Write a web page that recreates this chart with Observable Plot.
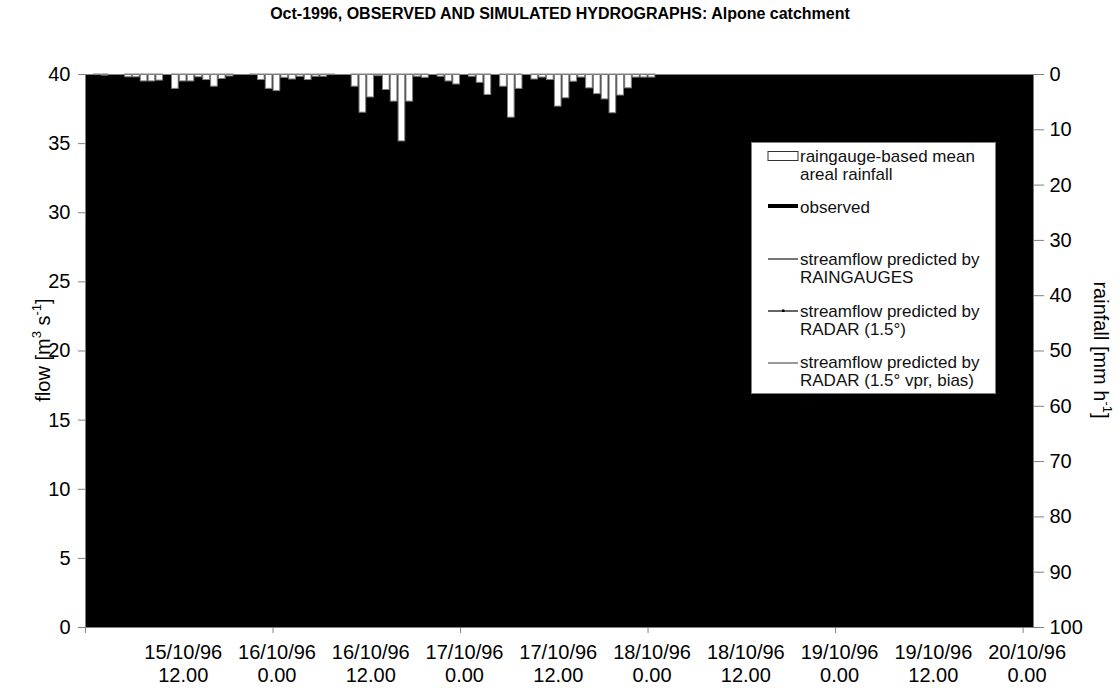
<!DOCTYPE html>
<html><head><meta charset="utf-8">
<script src="https://cdn.jsdelivr.net/npm/d3@7"></script>
<script src="https://cdn.jsdelivr.net/npm/@observablehq/plot@0.6"></script>
<style>
body{margin:0;background:#fff;font-family:"Liberation Sans",Arial,sans-serif;}
#wrap{position:relative;width:1120px;height:688px;overflow:hidden;}
#title{height:28px;line-height:28px;text-align:center;font-weight:bold;font-size:16px;color:#000;}
#chart svg{display:block;}
#legend{position:absolute;left:751px;top:142px;width:243px;height:250px;border:1px solid #808080;background:#fff;}
#legend svg{position:absolute;left:0;top:0;}
.li{position:absolute;left:48px;font-size:17px;line-height:17.7px;color:#111;white-space:nowrap;}
</style></head><body>
<div id="wrap">
<div id="title">Oct-1996, OBSERVED AND SIMULATED HYDROGRAPHS: Alpone catchment</div>
<div id="chart"></div>
<div id="legend"></div>
</div>
<script>
// hourly raingauge-based mean areal rainfall [mm/h], starting 15/10/96 0.00
const rainStart = Date.UTC(1996, 9, 15, 0);
const rain = [
  0, 0.1, 0.2, 0, 0, 0.5, 0.5, 1.25, 1.25, 1.1, 0, 2.6, 1.25, 1.25, 0.5, 1.0, 2.2, 0.8,
  0.35, 0, 0, 0.1, 1.0, 2.6, 3.0, 0.6, 0.9, 0.4, 1.0, 0.4, 0.4, 0.1, 0, 0, 2.2, 6.9,
  4.15, 0.3, 2.8, 4.9, 12.1, 4.9, 0.4, 0.6, 0, 0.4, 1.25, 1.8, 0, 0.4, 1.5, 3.7, 0, 2.2,
  7.8, 2.6, 0, 0.9, 0.55, 1.0, 5.8, 4.3, 1.3, 0.55, 2.5, 3.55, 4.5, 7.0, 3.8, 2.5, 0.55, 0.55, 0.55
];
const flowTicks = [0, 5, 10, 15, 20, 25, 30, 35, 40];
const rainTicks = [0, 10, 20, 30, 40, 50, 60, 70, 80, 90, 100];
const xMajorTicks = ["1996-10-15T00:00Z","1996-10-16T00:00Z","1996-10-17T00:00Z","1996-10-18T00:00Z","1996-10-19T00:00Z","1996-10-20T00:00Z"];
const xLabelTimes = ["1996-10-15T12:00Z","1996-10-16T00:00Z","1996-10-16T12:00Z","1996-10-17T00:00Z","1996-10-17T12:00Z","1996-10-18T00:00Z","1996-10-18T12:00Z","1996-10-19T00:00Z","1996-10-19T12:00Z","1996-10-20T00:00Z"];
const xLabels = ["15/10/96\n12.00","16/10/96\n0.00","16/10/96\n12.00","17/10/96\n0.00","17/10/96\n12.00","18/10/96\n0.00","18/10/96\n12.00","19/10/96\n0.00","19/10/96\n12.00","20/10/96\n0.00"];
const xDomain = ["1996-10-15T00:00Z", "1996-10-20T01:20Z"];
const FLOWMAX = 40, RAINMAX = 100;

const H = 3600e3;
const toFlow = r => FLOWMAX - r * FLOWMAX / RAINMAX;
const rainData = rain.map((r, i) => ({t0: new Date(rainStart + i * H), t1: new Date(rainStart + (i + 1) * H), r})).filter(d => d.r > 0);
const labelMap = new Map(xLabelTimes.map((t, i) => [+new Date(t), xLabels[i]]));

const chart = Plot.plot({
  width: 1120, height: 660,
  marginLeft: 85, marginRight: 87, marginTop: 46, marginBottom: 61,
  style: {fontFamily: "'Liberation Sans', Arial, sans-serif", fontSize: "20px", color: "#000", background: "transparent"},
  x: {type: "utc", domain: xDomain.map(d => new Date(d))},
  y: {domain: [0, FLOWMAX]},
  marks: [
    Plot.frame({fill: "#000", stroke: null}),
    Plot.rect(rainData, {x1: "t0", x2: "t1", y1: FLOWMAX, y2: d => toFlow(d.r), fill: "#fff", stroke: "#808080", strokeWidth: 1, insetLeft: 0.6, insetRight: 0.6}),
    Plot.frame({stroke: "#808080", fill: null}),
    Plot.axisY(flowTicks, {anchor: "left", tickSize: 7, tickPadding: 8, stroke: "#808080", fill: "#000", label: null, fontSize: 20}),
    Plot.axisY(rainTicks.map(toFlow), {anchor: "right", tickSize: 10, tickPadding: 6, stroke: "#808080", fill: "#000", label: null, fontSize: 20,
      tickFormat: v => String(Math.round((FLOWMAX - v) * RAINMAX / FLOWMAX))}),
    Plot.axisX(xMajorTicks.map(d => new Date(d)), {tickSize: 6, tickFormat: () => "", stroke: "#808080", label: null}),
    Plot.axisX(xLabelTimes.map(d => new Date(d)), {tickSize: 0, tickPadding: 15, dx: 4, fill: "#000", label: null, fontSize: 20, lineHeight: 1.15,
      tickFormat: d => labelMap.get(+d)})
  ]
});
document.getElementById("chart").appendChild(chart);

// axis titles with superscripts
const svg = d3.select(chart);
const flowLab = svg.append("text").attr("transform", "translate(45,322) rotate(-90)")
  .attr("text-anchor", "middle").attr("dominant-baseline", "middle").attr("font-size", 20).attr("fill", "#000");
flowLab.append("tspan").text("flow [m");
flowLab.append("tspan").attr("baseline-shift", "super").attr("font-size", 13).text("3");
flowLab.append("tspan").text(" s");
flowLab.append("tspan").attr("baseline-shift", "super").attr("font-size", 13).text("-1");
flowLab.append("tspan").text("]");
const rainLab = svg.append("text").attr("transform", "translate(1099,322) rotate(90)")
  .attr("text-anchor", "middle").attr("dominant-baseline", "middle").attr("font-size", 20).attr("fill", "#000");
rainLab.append("tspan").text("rainfall [mm h");
rainLab.append("tspan").attr("baseline-shift", "super").attr("font-size", 13).text("-1");
rainLab.append("tspan").text("]");

// legend
const legendItems = [
  {lines: ["raingauge-based mean", "areal rainfall"], top: 5, kind: "bar", y: 13},
  {lines: ["observed"], top: 56, kind: "line", y: 63, stroke: "#000", width: 4},
  {lines: ["streamflow predicted by", "RAINGAUGES"], top: 108, kind: "line", y: 116, stroke: "#666", width: 1.8},
  {lines: ["streamflow predicted by", "RADAR (1.5°)"], top: 160, kind: "marker", y: 168, stroke: "#000", width: 1.2},
  {lines: ["streamflow predicted by", "RADAR (1.5° vpr, bias)"], top: 211, kind: "line", y: 220, stroke: "#555", width: 1.2}
];
const leg = d3.select("#legend");
const ls = leg.append("svg").attr("width", 243).attr("height", 250);
for (const it of legendItems) {
  if (it.kind === "bar") {
    ls.append("rect").attr("x", 16).attr("y", it.y - 4.5).attr("width", 30).attr("height", 9).attr("fill", "#fff").attr("stroke", "#333").attr("stroke-width", 1);
  } else {
    ls.append("line").attr("x1", 16).attr("x2", 46).attr("y1", it.y).attr("y2", it.y).attr("stroke", it.stroke).attr("stroke-width", it.width);
    if (it.kind === "marker") ls.append("rect").attr("x", 30).attr("y", it.y - 1.5).attr("width", 2.5).attr("height", 2.5).attr("fill", "#000");
  }
  leg.append("div").attr("class", "li").style("top", it.top + "px").html(it.lines.join("<br>"));
}
</script>
</body></html>
